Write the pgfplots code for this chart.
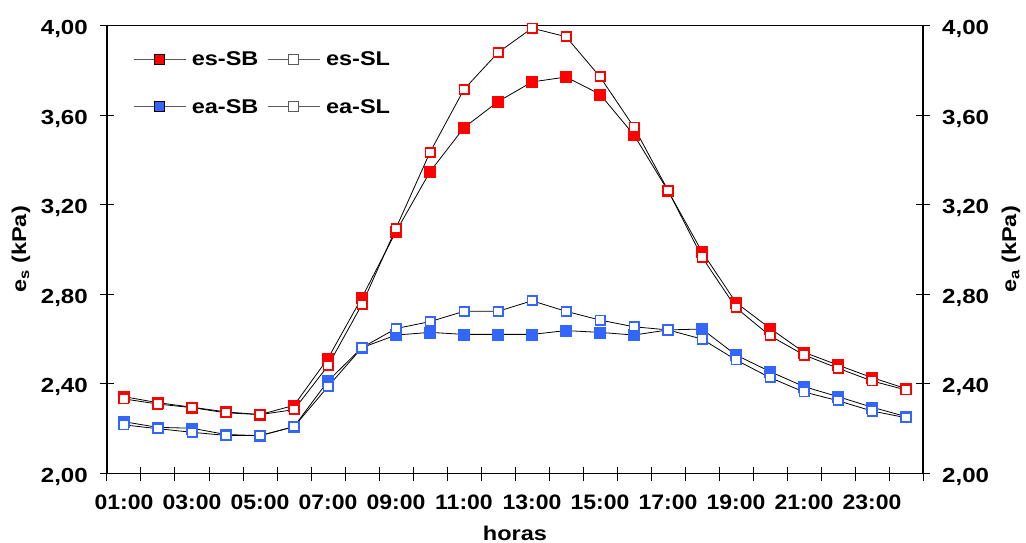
\documentclass[border=0pt]{standalone}
\usepackage{fontspec}
\usepackage{pgfplots}
\pgfplotsset{compat=1.18}
\newfontfamily\cf{Liberation Sans}[FakeStretch=1.18]
\newfontfamily\xf{Liberation Sans}[FakeStretch=1.1]
\definecolor{cred}{RGB}{255,0,0}
\definecolor{cblue}{RGB}{51,102,255}
\definecolor{lgray}{RGB}{90,90,90}

\pgfplotstableread{
h esSB esSL eaSB eaSL
1 2.343 2.333 2.231 2.217
2 2.316 2.310 2.206 2.200
3 2.296 2.294 2.202 2.184
4 2.275 2.271 2.174 2.170
5 2.263 2.263 2.169 2.169
6 2.304 2.285 2.209 2.209
7 2.514 2.481 2.413 2.388
8 2.786 2.755 2.562 2.562
9 3.080 3.095 2.618 2.647
10 3.347 3.434 2.630 2.678
11 3.544 3.715 2.621 2.724
12 3.660 3.879 2.621 2.724
13 3.748 3.988 2.621 2.771
14 3.770 3.950 2.638 2.724
15 3.693 3.771 2.630 2.685
16 3.511 3.546 2.618 2.655
17 3.262 3.264 2.641 2.641
18 2.990 2.966 2.645 2.600
19 2.763 2.740 2.529 2.507
20 2.648 2.615 2.455 2.428
21 2.541 2.529 2.388 2.364
22 2.484 2.470 2.343 2.325
23 2.428 2.413 2.296 2.279
24 2.379 2.373 2.254 2.249
}\datatable

\begin{document}
\begin{tikzpicture}
\pgfplotsset{
  common/.style={
    scale only axis, width=816bp, height=448bp,
    xmin=0.5, xmax=24.5, ymin=2, ymax=4,
    ytick={2,2.4,2.8,3.2,3.6,4},
    /pgf/number format/fixed,
    /pgf/number format/fixed zerofill,
    /pgf/number format/precision=2,
    /pgf/number format/use comma,
    /pgf/number format/assume math mode=true,
    tick align=center,
    major tick length=14bp,
    minor tick length=14bp,
    tick style={black, line width=1bp},
    axis line style={black, line width=1.2bp},
    yticklabel style={font=\cf\bfseries\fontsize{20.5}{24}\selectfont},
    ylabel style={font=\cf\bfseries\fontsize{20}{24}\selectfont},
  },
  legend image code/.code={%
    \draw[mark repeat=2,mark phase=2,#1] plot coordinates {(0bp,0bp) (26bp,0bp) (52bp,0bp)};}
}
\begin{axis}[common,
  clip=false,
  xtick={1,3,...,23},
  xticklabels={01:00,03:00,05:00,07:00,09:00,11:00,13:00,15:00,17:00,19:00,21:00,23:00},
  major x tick style={draw=none},
  minor xtick={0.5,1.5,...,24.5},
  xtick pos=left, ytick pos=left,
  xticklabel style={font=\xf\bfseries\fontsize{21}{24}\selectfont, inner sep=0pt, anchor=north, yshift=-14bp},
  yticklabel style={inner sep=0pt, anchor=east, xshift=-12bp, yshift=-3.5bp},
  xlabel={horas},
  xlabel style={font=\cf\bfseries\fontsize{20}{24}\selectfont, at={(axis description cs:0.5,0)}, anchor=center, yshift=-60bp},
  ylabel={e\textsubscript{s} (kPa)},
  ylabel style={at={(axis description cs:0,0.5)}, anchor=center, yshift=86bp},
  legend columns=2,
  legend style={at={(axis description cs:0,1)}, xshift=23bp, yshift=-24bp, anchor=north west,
    draw=none, fill=none, font=\cf\bfseries\fontsize{20}{24}\selectfont,
    nodes={inner sep=0pt, anchor=west},
    row sep=32bp,
    /tikz/every odd column/.append style={column sep=5.6bp},
    /tikz/every even column/.append style={column sep=9bp}},
]
\addlegendimage{lgray, line width=1bp, mark=square*, mark size=5bp, mark options={fill=cred, draw=black, line width=0.7bp}}
\addlegendentry{es-SB}
\addlegendimage{lgray, line width=1bp, mark=square*, mark size=5bp, mark options={fill=white, draw=lgray, line width=0.9bp}}
\addlegendentry{es-SL}
\addlegendimage{lgray, line width=1bp, mark=square*, mark size=5bp, mark options={fill=cblue, draw=black, line width=0.7bp}}
\addlegendentry{ea-SB}
\addlegendimage{lgray, line width=1bp, mark=square*, mark size=5bp, mark options={fill=white, draw=lgray, line width=0.9bp}}
\addlegendentry{ea-SL}

\addplot[forget plot, black, line width=0.8bp, mark=square*, mark size=5.5bp, mark options={fill=cred, draw=cred, line width=0.3bp}] table[x=h, y=esSB] {\datatable};
\addplot[forget plot, black, line width=0.8bp, mark=square*, mark size=4.6bp, mark options={fill=white, draw=cred, line width=1.8bp}] table[x=h, y=esSL] {\datatable};
\addplot[forget plot, black, line width=0.8bp, mark=square*, mark size=5.5bp, mark options={fill=cblue, draw=cblue, line width=0.3bp}] table[x=h, y=eaSB] {\datatable};
\addplot[forget plot, black, line width=0.8bp, mark=square*, mark size=4.6bp, mark options={fill=white, draw=cblue, line width=1.8bp}] table[x=h, y=eaSL] {\datatable};
\end{axis}
\begin{axis}[common,
  axis x line=none, axis y line*=right,
  tick align=center,
  ytick pos=right,
  yticklabel style={inner sep=0pt, anchor=west, xshift=12bp, yshift=-3.5bp},
  ylabel={e\textsubscript{a} (kPa)},
  ylabel style={at={(axis description cs:1,0.5)}, anchor=center, yshift=-88bp},
]
\end{axis}
\pgfresetboundingbox
\path[use as bounding box] (-107bp,-69.5bp) rectangle (919bp,473.5bp);
\end{tikzpicture}
\end{document}
